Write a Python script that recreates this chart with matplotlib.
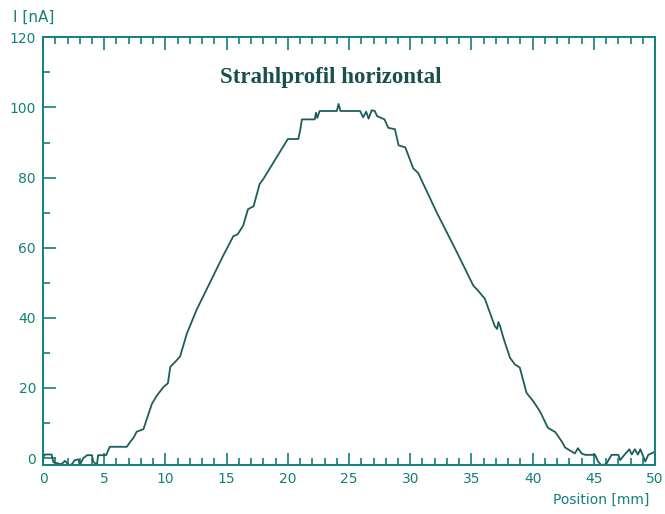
import matplotlib
matplotlib.use("Agg")
import matplotlib.pyplot as plt
from matplotlib.ticker import MultipleLocator

# Beam current measured while stepping the probe horizontally
position_mm = [
    0.0, 0.15, 0.7, 0.85, 1.5, 1.8, 2.1, 2.35, 2.6, 2.9, 3.0, 3.3, 3.6, 4.0,
    4.1, 4.4, 4.5, 5.15, 5.45, 6.85, 7.1, 7.4, 7.65, 8.2, 8.9, 9.3, 9.85,
    10.2, 10.4, 10.9, 11.2, 11.75, 12.55, 14.7, 15.55, 15.9, 16.35, 16.75,
    17.2, 17.7, 18.0, 20.0, 20.85, 21.0, 21.15, 22.2, 22.3, 22.4, 22.6, 24.0,
    24.15, 24.3, 25.9, 26.15, 26.4, 26.6, 26.85, 27.1, 27.3, 27.9, 28.2,
    28.75, 29.05, 29.6, 30.25, 30.65, 32.2, 33.8, 35.15, 35.55, 36.1, 36.9,
    37.1, 37.2, 37.35, 37.6, 38.15, 38.55, 38.95, 39.5, 40.05, 40.6, 41.25,
    41.85, 42.4, 42.65, 43.45, 43.7, 44.0, 44.3, 45.1, 45.35, 45.6, 46.0,
    46.45, 47.0, 47.15, 47.5, 47.9, 48.1, 48.35, 48.6, 48.8, 49.2, 49.45, 50.0,
]
current_nA = [
    0.0, 1.0, 1.0, -1.2, -1.8, -0.8, -2.0, -1.8, -0.6, -0.4, -2.0, 0.0, 0.8,
    0.8, -1.0, -2.0, 0.8, 0.8, 3.2, 3.2, 4.5, 5.8, 7.5, 8.2, 15.5, 17.8, 20.3,
    21.3, 26.0, 27.8, 29.0, 35.5, 42.3, 57.6, 63.3, 63.8, 66.3, 71.0, 71.8,
    78.2, 79.6, 91.0, 91.0, 93.3, 96.6, 96.6, 98.5, 97.0, 99.0, 99.0, 101.0,
    99.0, 99.0, 97.2, 98.8, 96.8, 99.2, 99.0, 97.5, 96.6, 94.2, 93.8, 89.2,
    88.6, 82.6, 81.3, 69.8, 58.8, 49.2, 47.7, 45.4, 37.7, 36.8, 38.8, 37.5,
    34.4, 28.6, 26.7, 25.8, 18.6, 16.2, 13.3, 8.6, 7.4, 4.6, 3.0, 1.3, 2.8,
    1.3, 0.9, 0.9, -1.0, -2.0, -1.8, 0.9, 0.9, -0.6, 0.9, 2.5, 1.0, 2.5, 1.0,
    2.5, -1.0, 0.9, 1.8,
]

x_ticks = [0, 5, 10, 15, 20, 25, 30, 35, 40, 45, 50]
y_ticks = [0, 20, 40, 60, 80, 100, 120]

title_text = "Strahlprofil horizontal"
x_label = "Position [mm]"
y_label = "I [nA]"

teal = "#12807d"
curve_col = "#1d5e5c"

fig = plt.figure(figsize=(6.65, 5.14), dpi=100)
ax = fig.add_axes([0.0647, 0.0953, 0.9203, 0.832])

ax.plot(position_mm, current_nA, color=curve_col, lw=1.3)

ax.set_xlim(0, 50)
ax.set_ylim(-2, 120)
ax.set_xticks(x_ticks)
ax.set_yticks(y_ticks)
ax.xaxis.set_minor_locator(MultipleLocator(1))
ax.yaxis.set_minor_locator(MultipleLocator(10))

ax.tick_params(which="both", direction="in", colors=teal, top=True,
               right=False, labelsize=10)
ax.tick_params(axis="x", pad=5)
ax.tick_params(axis="y", pad=5)
ax.tick_params(which="major", length=9, width=1.2)
ax.tick_params(which="minor", length=5, width=1.2)
for s in ax.spines.values():
    s.set_color(teal)
    s.set_linewidth(1.4)

ax.text(0.47, 0.905, title_text, transform=ax.transAxes, ha="center",
        va="center", family="Liberation Serif", fontweight="bold",
        fontsize=16.5, color="#17504e")

fig.text(0.02, 0.967, y_label, ha="left", va="center", fontsize=11,
         color=teal)
fig.text(0.977, 0.027, x_label, ha="right", va="center", fontsize=10,
         color=teal)

fig.savefig("out.png", dpi=100)
